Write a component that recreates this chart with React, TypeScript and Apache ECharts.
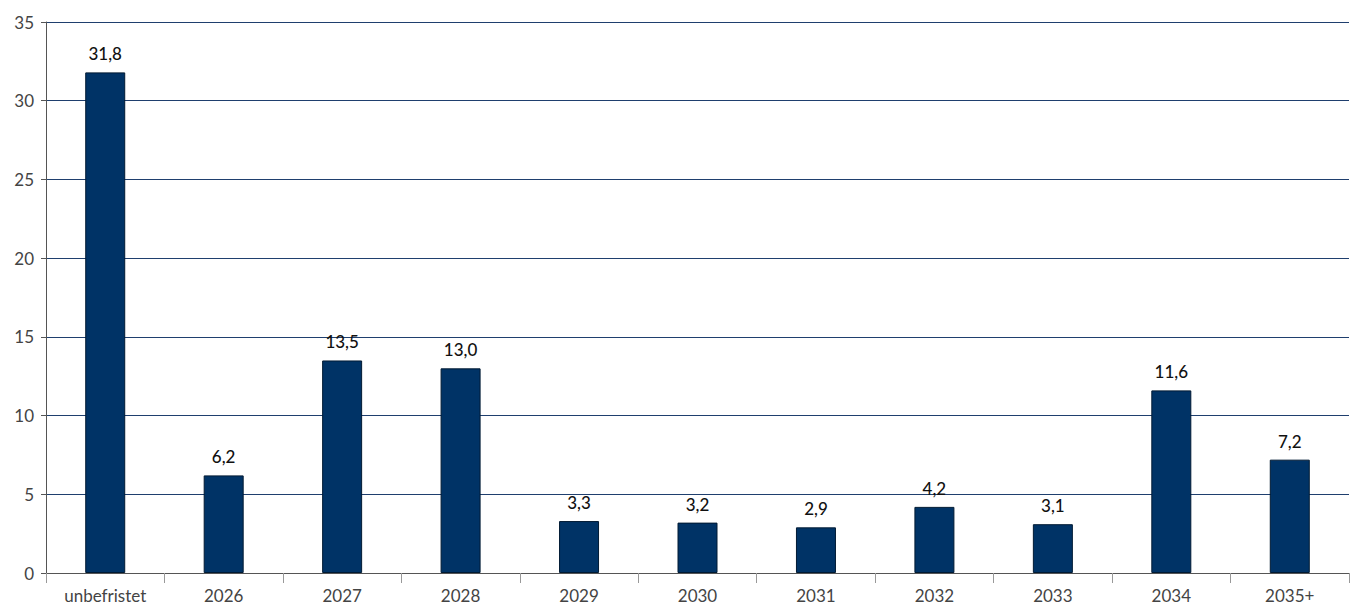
import { useEffect, useRef } from "react";
import * as echarts from "echarts";

const categories = ["unbefristet", "2026", "2027", "2028", "2029", "2030", "2031", "2032", "2033", "2034", "2035+"];
const values = [31.8, 6.2, 13.5, 13.0, 3.3, 3.2, 2.9, 4.2, 3.1, 11.6, 7.2];

export default function App() {
  const chartRef = useRef<HTMLDivElement>(null);

  useEffect(() => {
    document.body.style.margin = "0";
    const chart = echarts.init(chartRef.current!, null, { renderer: "svg" });
    chart.setOption({
      animation: false,
      textStyle: { fontFamily: "Lato, sans-serif" },
      grid: { left: 46, right: 6, top: 22, bottom: 32 },
      xAxis: {
        type: "category",
        data: categories,
        axisLine: { lineStyle: { color: "#555", width: 1 } },
        axisTick: { show: true, length: 10, lineStyle: { color: "#999" } },
        axisLabel: { color: "#444", fontSize: 17, margin: 14 },
      },
      yAxis: {
        type: "value",
        min: 0,
        max: 35,
        interval: 5,
        axisLine: { show: true, lineStyle: { color: "#555" } },
        axisTick: { show: true, length: 5, lineStyle: { color: "#555" } },
        axisLabel: { color: "#444", fontSize: 17, margin: 12 },
        splitLine: { lineStyle: { color: "#1f3f6e", width: 1 } },
      },
      series: [
        {
          type: "bar",
          data: values,
          barWidth: 40,
          itemStyle: { color: "#003366", borderColor: "#001a33", borderWidth: 1 },
          label: {
            show: true,
            position: "top",
            distance: 10,
            color: "#111",
            fontSize: 17,
            fontWeight: 500,
            formatter: (p: any) => p.value.toFixed(1).replace(".", ","),
          },
        },
      ],
    });
    return () => chart.dispose();
  }, []);

  return <div ref={chartRef} style={{ width: 1355, height: 605 }} />;
}
